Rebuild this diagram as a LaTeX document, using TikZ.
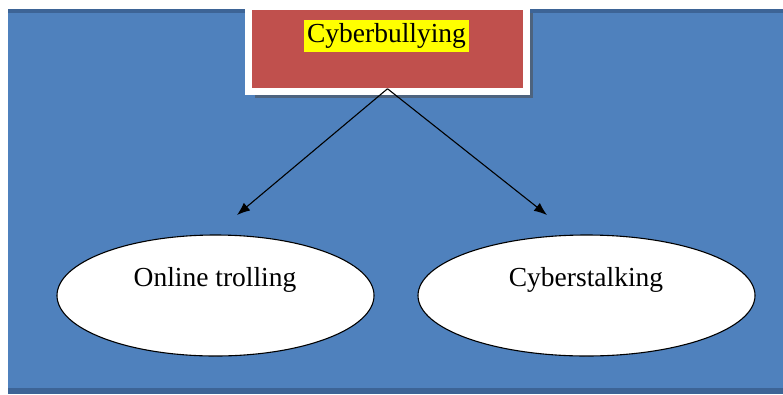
\documentclass[tikz,border=0pt]{standalone}
\usepackage{fontspec}
\setmainfont{Liberation Serif}
\definecolor{slide}{HTML}{4F81BD}
\definecolor{slideedge}{HTML}{3D6496}
\definecolor{boxred}{HTML}{C0504D}
\definecolor{hilite}{HTML}{FFFF00}
\usepackage{tikz}
\usetikzlibrary{arrows.meta,shapes.geometric,shadows}

\begin{document}
\begin{tikzpicture}[x=1pt,y=-1pt,
    topbox/.style={draw=white,line width=7pt,fill=boxred,minimum width=278pt,minimum height=85.5pt,
      drop shadow={shadow xshift=6.5pt,shadow yshift=-6.5pt,fill=black!70,opacity=0.55}},
    leaf/.style={ellipse,draw=black,line width=1.1pt,fill=white,minimum height=121pt},
    tag/.style={inner sep=0pt,font=\fontsize{27.5}{32}\selectfont},
    link/.style={line width=1.1pt,-{Latex[length=13pt,width=10pt]}}]
        \useasboundingbox (0,0) rectangle (783,394);
        % slide background
        \fill[slide] (8,9) rectangle (783,394);
        \fill[slideedge] (8,9) rectangle (783,13);
        \fill[slideedge] (8,388) rectangle (783,394);
        \node[topbox] (bully) at (387.5,49) {};
        \node[tag] (bullytxt) at (386.5,36) {\setlength{\fboxsep}{3pt}\colorbox{hilite}{Cyberbullying}};
        \node[leaf,minimum width=317pt] (troll) at (215.5,295.5) {};
        \node[tag] (trolltxt) at (215,280) {Online trolling};
        \node[leaf,minimum width=337pt] (stalk) at (586.5,295.5) {};
        \node[tag] (stalktxt) at (586,280) {Cyberstalking};
        \coordinate (apex) at ([yshift=6.5pt]bully.south);
        \coordinate (endl) at (237,215);
        \coordinate (endr) at (547,215);
        \draw[link] (apex) -- (endl);
        \draw[link] (apex) -- (endr);
      \end{tikzpicture}
\end{document}
